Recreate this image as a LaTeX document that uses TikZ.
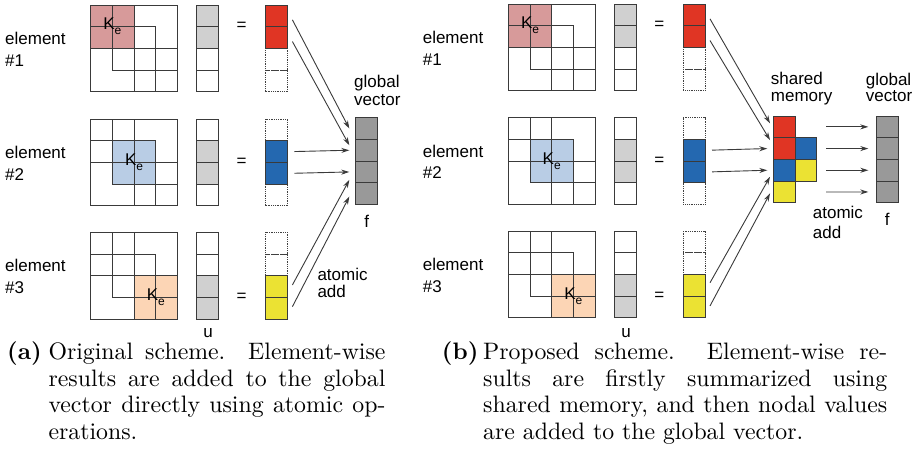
\documentclass[tikz,border=0pt]{standalone}
\usepackage{fontspec}
\newfontfamily\sansfam{Liberation Sans}
\newfontfamily\capfam{lmroman10-regular.otf}[BoldFont=lmroman10-bold.otf]
\usetikzlibrary{arrows.meta}
\definecolor{kred}{HTML}{D79A9A}
\definecolor{kblue}{HTML}{B9CDE5}
\definecolor{korange}{HTML}{FCD5B5}
\definecolor{vred}{HTML}{E03524}
\definecolor{vblue}{HTML}{2468B0}
\definecolor{vyel}{HTML}{EBE233}
\definecolor{ugray}{HTML}{D0D0D0}
\definecolor{fgray}{HTML}{999999}
\definecolor{lncol}{HTML}{3A3A3A}
\newcommand\labfont{\sansfam\fontsize{17}{21}\selectfont}
\newcommand\capfont{\capfam\fontsize{23.8}{26.6}\selectfont}
\tikzset{
  ln/.style={draw=lncol, line width=0.9pt},
  cell/.style={minimum width=21.7pt, minimum height=21.7pt, inner sep=0pt, outer sep=0pt,
    anchor=north west, draw=lncol, line width=0.9pt},
  dotcell/.style={cell, draw=black!75, line width=0.7pt, dash pattern=on 0.9pt off 0.9pt},
  lab/.style={font=\labfont, inner sep=0pt},
  capline/.style={font=\capfont, inner sep=0pt, anchor=base west},
  arr/.style={draw=lncol, line width=0.9pt, -{Stealth[length=8pt,width=5pt]}},
}
% #1 prefix, #2 x shift, #3 y top, #4 highlight index, #5 matrix colour, #6 result colour, #7 element number
\newcommand\myelem[7]{%
\begin{scope}[shift={(#2,#3)}]
  \fill[#5] ({90.7+#4*21.7},{#4*21.7}) rectangle ++(43.4,43.4);
  \draw[ln] (90.7,0) rectangle (177.5,86.8);
  \foreach \k in {0,1,2} {
    \draw[ln] ({90.7+\k*21.7},{\k*21.7}) rectangle ++(43.4,43.4);
    \draw[ln] ({90.7+(\k+1)*21.7},{\k*21.7}) -- ++(0,43.4);
    \draw[ln] ({90.7+\k*21.7},{(\k+1)*21.7}) -- ++(43.4,0);
  }
  \node[lab] (#1ke) at ({90.7+(#4+1)*21.7},{(#4+1)*21.7}) {K\raisebox{-5pt}{\fontsize{12}{12}\selectfont e}};
  \foreach \r in {0,...,3} {
    \pgfmathtruncatemacro\hi{((\r==#4)||(\r==#4+1))?1:0}
    \ifnum\hi=1
      \node[cell, fill=ugray] (#1u\r) at (196.7,{\r*21.7}) {};
    \else
      \node[cell, fill=white] (#1u\r) at (196.7,{\r*21.7}) {};
      \node[dotcell] (#1r\r) at (265.7,{\r*21.7}) {};
    \fi
  }
  \foreach \r in {0,...,3} {
    \pgfmathtruncatemacro\hi{((\r==#4)||(\r==#4+1))?1:0}
    \ifnum\hi=1
      \node[cell, fill=#6] (#1r\r) at (265.7,{\r*21.7}) {};
    \fi
  }
  \node[lab] (#1eq) at (241.7,{(#4+1)*21.7}) {=};
  \node[lab, anchor=base west] (#1lblA) at (5,39.5) {element};
  \node[lab, anchor=base west] (#1lblB) at (5,61) {\##7};
\end{scope}}

\begin{document}
\begin{tikzpicture}[x=1pt,y=-1pt]
\useasboundingbox (0,0) rectangle (920,471);

% ---------- panel (a) ----------
\myelem{a1}{0}{5}{0}{kred}{vred}{1}
\myelem{a2}{0}{119}{1}{kblue}{vblue}{2}
\myelem{a3}{0}{232.4}{2}{korange}{vyel}{3}
\foreach \r in {0,...,3} {
  \node[cell, fill=fgray] (af\r) at (355.7,{117.7+\r*21.7}) {};
}
\node[lab, anchor=base west] (aglob) at (354,87.3) {global};
\node[lab, anchor=base west] (avec) at (354,105) {vector};
\node[lab, anchor=base] (aflab) at (366.7,227) {f};
\node[lab, anchor=base west] (aatom) at (317.3,280) {atomic};
\node[lab, anchor=base west] (aadd) at (317.3,297.7) {add};
\node[lab, anchor=base] (aulab) at (208,337) {u};

\draw[arr] ([xshift=5pt,yshift=-4pt]a1r0.east) -- ([xshift=-6.4pt]af0.west);
\draw[arr] ([xshift=5pt,yshift=-4pt]a1r1.east) -- ([xshift=-6.4pt,yshift=5pt]af1.west);
\draw[arr] ([xshift=7pt]a2r1.east) -- ([xshift=-6.4pt]af1.west);
\draw[arr] ([xshift=7pt]a2r2.east) -- ([xshift=-6.4pt]af2.west);
\draw[arr] ([xshift=5pt,yshift=1.7pt]a3r2.east) -- ([xshift=-6.4pt,yshift=-8pt]af2.west);
\draw[arr] ([xshift=5pt,yshift=1.7pt]a3r3.east) -- ([xshift=-6.4pt,yshift=-3pt]af3.west);

% ---------- panel (b) ----------
\myelem{b1}{417.6}{4}{0}{kred}{vred}{1}
\myelem{b2}{417.6}{117.6}{1}{kblue}{vblue}{2}
\myelem{b3}{417.6}{231}{2}{korange}{vyel}{3}
\node[cell, fill=vred] (bs0r0) at (773.3,116) {};
\node[cell, fill=vred] (bs0r1) at (773.3,137.7) {};
\node[cell, fill=vblue] (bs0r2) at (773.3,159.4) {};
\node[cell, fill=vyel] (bs0r3) at (773.3,181.1) {};
\node[cell, fill=vblue] (bs1r1) at (795,137.7) {};
\node[cell, fill=vyel] (bs1r2) at (795,159.4) {};
\foreach \r in {0,...,3} {
  \node[cell, fill=fgray] (bf\r) at (876.7,{116+\r*21.7}) {};
}
\node[lab, anchor=base west] (bshar) at (770.7,84.3) {shared};
\node[lab, anchor=base west] (bmem) at (770.7,101.7) {memory};
\node[lab, anchor=base west] (bglob) at (865.7,85) {global};
\node[lab, anchor=base west] (bvec) at (865.7,101.7) {vector};
\node[lab, anchor=base] (bflab) at (887.3,225) {f};
\node[lab, anchor=base west] (batom) at (812.7,218.3) {atomic};
\node[lab, anchor=base west] (badd) at (812.7,238.3) {add};
\node[lab, anchor=base] (bulab) at (626,337) {u};

\draw[arr] ([xshift=5pt,yshift=-4pt]b1r0.east) -- ([xshift=-3.3pt,yshift=3.5pt]bs0r0.west);
\draw[arr] ([xshift=5pt,yshift=-4pt]b1r1.east) -- ([xshift=-3.3pt,yshift=8.5pt]bs0r1.west);
\draw[arr] ([xshift=7pt]b2r1.east) -- ([xshift=-6pt]bs0r1.west);
\draw[arr] ([xshift=7pt]b2r2.east) -- ([xshift=-6pt]bs0r2.west);
\draw[arr] ([xshift=5pt,yshift=2.5pt]b3r2.east) -- ([xshift=-3.3pt,yshift=-6.5pt]bs0r2.west);
\draw[arr] ([xshift=5pt,yshift=1pt]b3r3.east) -- ([xshift=-3.3pt,yshift=-1.5pt]bs0r3.west);
\foreach \r in {0,...,3} {
  \draw[arr] ([xshift=31.1pt]bs0r\r.east) -- ([xshift=-8.4pt]bf\r.west);
}

% ---------- captions ----------
\node[capline, font=\capfont\bfseries] (capa) at (7,359.5) {(a)};
\node[capline] (capa1) at (48.3,359.5) {\makebox[337pt][s]{Original scheme. Element-wise}};
\node[capline] (capa2) at (48.3,386) {\makebox[337pt][s]{results are added to the global}};
\node[capline] (capa3) at (48.3,412.5) {\makebox[337pt][s]{vector directly using atomic op-}};
\node[capline] (capa4) at (48.3,439) {erations.};

\node[capline, font=\capfont\bfseries] (capb) at (441.7,359.5) {(b)};
\node[capline] (capb1) at (483,359.5) {\makebox[404pt][s]{Proposed scheme. Element-wise re-}};
\node[capline] (capb2) at (483,386) {\makebox[404pt][s]{sults are firstly summarized using}};
\node[capline] (capb3) at (483,412.5) {\makebox[404pt][s]{shared memory, and then nodal values}};
\node[capline] (capb4) at (483,439) {are added to the global vector.};
\end{tikzpicture}
\end{document}
